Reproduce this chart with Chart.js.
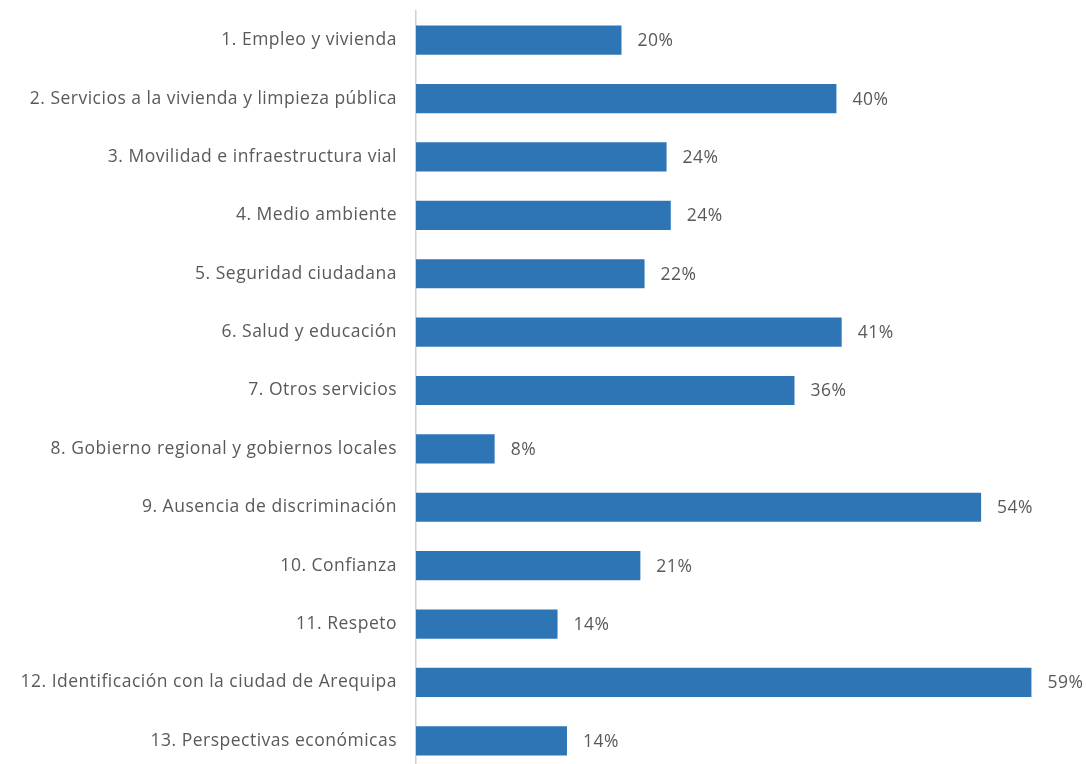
<!DOCTYPE html>
<html>
<head>
<meta charset="utf-8">
<script src="https://cdn.jsdelivr.net/npm/chart.js@4"></script>
<style>
  html, body { margin: 0; padding: 0; background: #fff; overflow: hidden; }
  #wrap { width: 1087px; height: 770px; }
</style>
</head>
<body>
<div id="wrap"><canvas id="myChart"></canvas></div>
<script>
// Categorias (eje vertical)
const categories = [
    "1. Empleo y vivienda",
    "2. Servicios a la vivienda y limpieza pública",
    "3. Movilidad e infraestructura vial",
    "4. Medio ambiente",
    "5. Seguridad ciudadana",
    "6. Salud y educación",
    "7. Otros servicios",
    "8. Gobierno regional y gobiernos locales",
    "9. Ausencia de discriminación",
    "10. Confianza",
    "11. Respeto",
    "12. Identificación con la ciudad de Arequipa",
    "13. Perspectivas económicas"
];
// Porcentajes (estimados de la longitud de las barras)
const values = [19.6, 40.1, 23.9, 24.3, 21.8, 40.6, 36.1, 7.5, 53.9, 21.4, 13.5, 58.7, 14.4];

const fontFamily = '"Open Sans", "Liberation Sans", Arial, sans-serif';

// Espaciado de letras un poco mas ancho (como en el original)
const letterSpacing = {
    id: 'letterSpacing',
    beforeLayout(chart) { chart.ctx.letterSpacing = '0.5px'; },
    beforeDraw(chart) { chart.ctx.letterSpacing = '0.5px'; }
};

// Etiquetas de valor al final de cada barra
const valueLabels = {
    id: 'valueLabels',
    afterDatasetsDraw(chart) {
        const ctx = chart.ctx;
        const meta = chart.getDatasetMeta(0);
        ctx.save();
        ctx.font = '17.5px ' + fontFamily;
        ctx.fillStyle = '#595959';
        ctx.textAlign = 'left';
        ctx.textBaseline = 'middle';
        meta.data.forEach((bar, i) => {
            ctx.fillText(Math.round(values[i]) + '%', bar.x + 16, bar.y + 1);
        });
        ctx.restore();
    }
};

new Chart(document.getElementById('myChart'), {
    type: 'bar',
    data: {
        labels: categories,
        datasets: [{
            data: values,
            backgroundColor: '#2E75B6',
            borderWidth: 0,
            categoryPercentage: 1,
            barPercentage: 0.5
        }]
    },
    options: {
        indexAxis: 'y',
        responsive: true,
        maintainAspectRatio: false,
        animation: false,
        layout: { padding: { top: 11, right: 0, bottom: 0, left: 0 } },
        plugins: {
            legend: { display: false },
            tooltip: { enabled: false }
        },
        scales: {
            x: {
                display: false,
                min: 0,
                max: 64
            },
            y: {
                afterFit(scale) {
                    scale.width = 416;
                    scale.paddingTop = 0;
                    scale.paddingBottom = 0;
                },
                grid: { display: false },
                border: { display: true, color: '#D0D0D0', width: 1.5 },
                ticks: {
                    padding: 11,
                    color: '#595959',
                    font: { family: fontFamily, size: 17.5 }
                }
            }
        }
    },
    plugins: [letterSpacing, valueLabels]
});
</script>
</body>
</html>
